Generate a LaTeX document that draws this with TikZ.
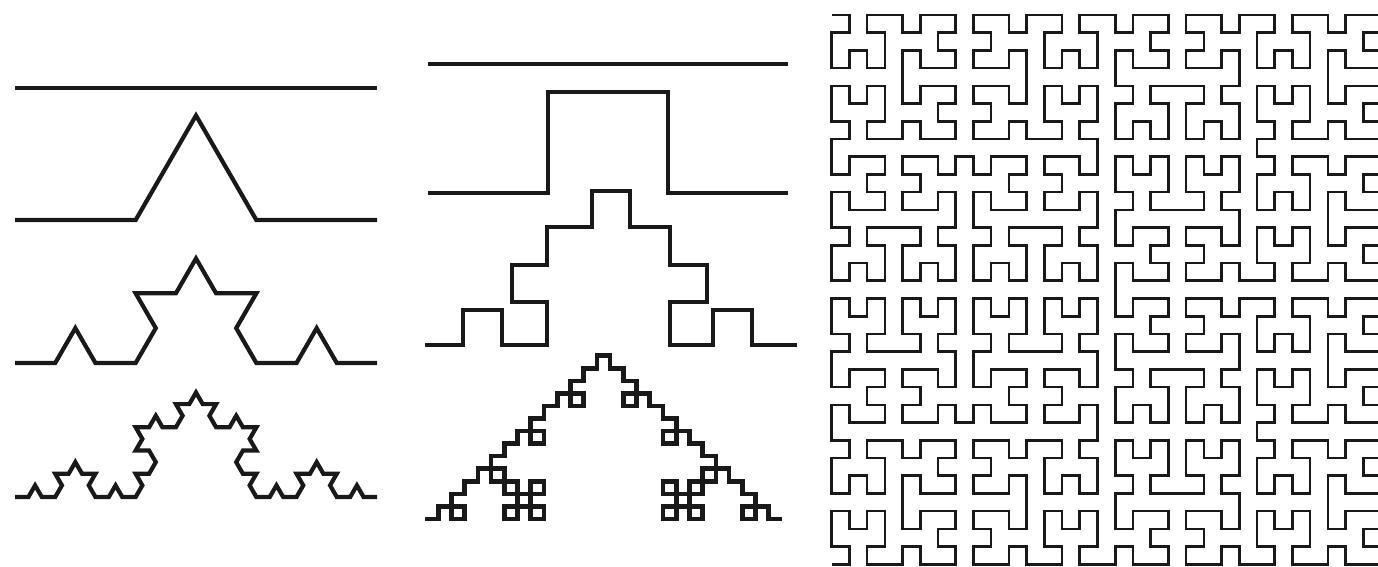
\documentclass[tikz,border=0pt]{standalone}
\usetikzlibrary{lindenmayersystems}
\pgfdeclarelindenmayersystem{Koch}{\rule{F -> F+F--F+F}}
\pgfdeclarelindenmayersystem{QuadKoch}{\rule{F -> F+F-F-F+F}}
\pgfdeclarelindenmayersystem{Hilbert}{
  \rule{A -> +BF-AFA-FB+}
  \rule{B -> -AF+BFB+FA-}}
\begin{document}
\begin{tikzpicture}[x=0.5pt, y=0.5pt,
  koch/.style={line width=2.1pt, black!90},
  quad/.style={line width=2.3pt, black!90},
  hilbert/.style={line width=1.3pt, black!90}
]
\useasboundingbox (0,0) rectangle (1378,567);
% Koch curve, orders 0 to 3
\draw[koch] (15,479) -- (377,479);
\draw[koch, shift={(15,347)}, lindenmayer system={Koch, axiom=F, order=1, step=60.333pt, angle=60}]
  lindenmayer system;
\draw[koch, shift={(15,204)}, lindenmayer system={Koch, axiom=F, order=2, step=20.111pt, angle=60}]
  lindenmayer system;
\draw[koch, shift={(15,70)}, lindenmayer system={Koch, axiom=F, order=3, step=6.704pt, angle=60}]
  lindenmayer system;
% quadratic Koch curve, orders 0 to 3
\draw[quad] (428,503) -- (788,503);
\draw[quad, shift={(428,374)}, yscale=0.84, lindenmayer system={QuadKoch, axiom=F, order=1, step=60pt, angle=90}]
  lindenmayer system;
\draw[quad] (425,222) -| (463,257) -| (502,222) -| (547,265) -| (512,302) -| (547,340)
  -| (592,376) -| (630,340) -| (670,302) -| (707,265) -| (670,222) -| (713,257)
  -| (752,222) -- (797,222);
\draw[quad, shift={(425,48)}, yscale=0.95, lindenmayer system={QuadKoch, axiom=F, order=3, step=6.611pt, angle=90}]
  lindenmayer system;
% Hilbert curve, order 5
\draw[hilbert, shift={(831.7,552)}, lindenmayer system={Hilbert, axiom=-A, order=5, step=8.86pt, angle=90}]
  lindenmayer system;
\end{tikzpicture}
\end{document}
